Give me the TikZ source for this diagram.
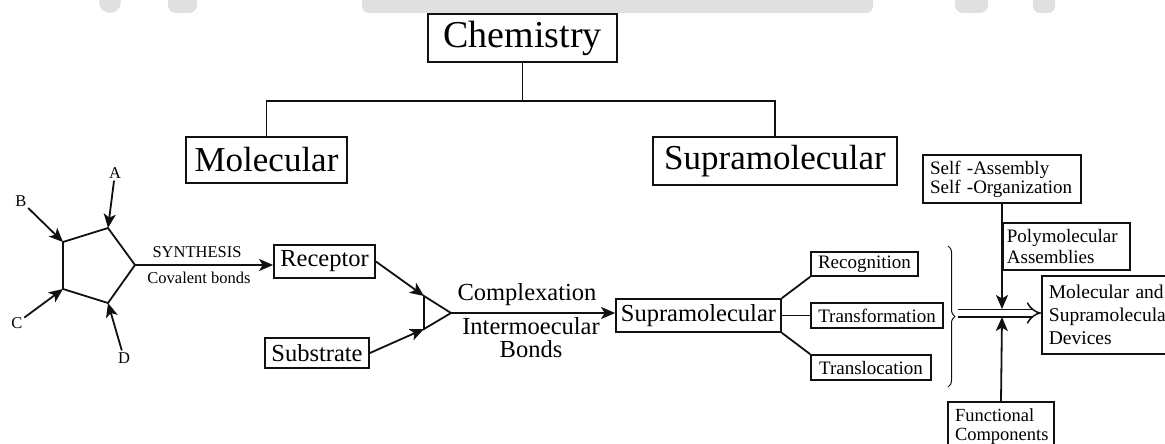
\documentclass[tikz,border=0pt]{standalone}
\usepackage{fontspec}
\setmainfont{Liberation Serif}
\usepackage{xcolor}
\definecolor{cLine}{HTML}{111111}
\definecolor{cBand}{HTML}{E0E0E0}
\usepackage{tikz}
\usetikzlibrary{positioning,arrows.meta,decorations.pathreplacing}
\tikzset{
  node-box/.style={draw=cLine,line width=1.8pt,inner sep=0pt,align=center},
  node-top/.style={node-box,font=\fontsize{35}{38}\selectfont},
  node-mid/.style={node-box,font=\fontsize{24.5}{26}\selectfont},
  node-small/.style={node-box,font=\fontsize{19}{19}\selectfont},
  node-multi/.style={draw=cLine,line width=1.8pt,inner ysep=0pt,align=left},
  node-label/.style={inner sep=0pt,align=center,font=\fontsize{16.5}{18}\selectfont},
  node-text/.style={inner sep=0pt,align=center,font=\fontsize{24.5}{23}\selectfont},
  arrow/.style={-{Stealth[length=14pt,width=12pt,inset=3.5pt]},line width=1.8pt,draw=cLine},
  link/.style={line width=1.8pt,draw=cLine},
}

\begin{document}
\begin{tikzpicture}[x=1pt,y=-1pt]
  \useasboundingbox (0,0) rectangle (1165,444);
  \clip (0,0) rectangle (1165,444);
  \fill[white] (0,0) rectangle (1165,444);
  % faded band along the top edge
  \fill[cBand] (110,2) circle (11);
  \fill[cBand,rounded corners=8pt] (168,-10) rectangle (197,13);
  \fill[cBand,rounded corners=7pt] (362,-10) rectangle (873,13);
  \fill[cBand,rounded corners=8pt] (955,-10) rectangle (988,13);
  \fill[cBand,rounded corners=7pt] (1033,-10) rectangle (1055,13);

  % tree
  \node[node-top,font=\fontsize{38}{40}\selectfont,minimum width=189pt,minimum height=48pt] (chem) at (522.5,38) {Chemistry};
  \node[node-top,minimum width=161pt,minimum height=46pt] (mol) at (266.5,160) {Molecular};
  \node[node-top,minimum width=244pt,minimum height=48pt] (supra) at (775,161) {Supramolecular};
  \draw[link] (chem.south) -- ++(0,38) -| (mol.north);
  \draw[link] (chem.south) ++(0,38) -| (supra.north);

  % ring
  \coordinate (pA) at (108,228);
  \coordinate (pR) at (135,265);
  \coordinate (pD) at (108,303);
  \coordinate (pC) at (63,289);
  \coordinate (pB) at (63,242);
  \draw[link,line join=miter] (pA) -- (pR) -- (pD) -- (pC) -- (pB) -- cycle;
  \node[node-label] (lblA) at (115,173) {A};
  \node[node-label] (lblB) at (21,201) {B};
  \node[node-label] (lblC) at (17,323) {C};
  \node[node-label] (lblD) at (124,358) {D};
  \draw[arrow,shorten <=2pt] (lblA) -- (pA);
  \draw[arrow,shorten <=2pt] (lblB) -- (pB);
  \draw[arrow,shorten <=2pt] (lblC) -- (pC);
  \draw[arrow,shorten <=2pt] (lblD) -- (pD);

  \node[node-mid,minimum width=101pt,minimum height=33pt] (rec) at (324.5,261.5) {Receptor};
  \node[node-mid,minimum width=104pt,minimum height=30pt] (sub) at (317,353) {Substrate};
  \node[node-label] (syn) at (197,252) {SYNTHESIS};
  \node[node-label] (cov) at (199,278) {Covalent bonds};
  \draw[arrow] (pR) -- (pR -| rec.west);

  % complexation
  \coordinate (tTop) at (424,296);
  \coordinate (tBot) at (424,329);
  \coordinate (tApex) at (451,313);
  \draw[link] (tTop) -- (tApex) -- (tBot) -- cycle;
  \draw[arrow] (rec.east) -- (tTop);
  \draw[arrow] (sub.east) -- (tBot);
  \node[node-mid,minimum width=165pt,minimum height=33pt] (supmid) at (698.5,315.5) {Supramolecular};
  \node[node-text] (cplx) at (527,295) {Complexation};
  \node[node-text] (inter) at (531,338) {Intermoecular\\Bonds};
  \draw[arrow] (tApex) -- (tApex -| supmid.west);

  \node[node-small,minimum width=107pt,minimum height=24pt] (recog) at (864.5,264) {Recognition};
  \node[node-small,minimum width=132pt,minimum height=25pt] (transf) at (877,315.5) {Transformation};
  \node[node-small,minimum width=120pt,minimum height=25pt] (transl) at (871,367.5) {Translocation};
  \draw[link] (supmid.north east) -- (recog.south west);
  \draw[link] (supmid.east) -- (transf.west);
  \draw[link] (supmid.south east) -- (transl.north west);

  % devices
  \draw[decorate,decoration={brace,amplitude=7pt},line width=1pt,draw=cLine] (948,246) -- (948,387);
  \node[node-multi,font=\fontsize{19}{19}\selectfont,inner xsep=7pt,text width=144pt,minimum height=48pt] (self) at (1002,179) {Self -Assembly\\Self -Organization};
  \node[node-multi,font=\fontsize{19}{21}\selectfont,inner xsep=4pt,text width=119pt,minimum height=47pt,anchor=north west] (poly) at (1002,222) {Polymolecular\\Assemblies};
  \node[node-multi,font=\fontsize{19.5}{23}\selectfont,inner xsep=7pt,text width=126pt,minimum height=78pt,anchor=north west] (dev) at (1041,275) {Molecular and\\Supramolecular\\Devices};
  \node[node-multi,font=\fontsize{18.5}{19}\selectfont,inner xsep=7pt,text width=92pt,minimum height=50pt,anchor=north] (func) at (1001,401) {Functional\\Components};
  \coordinate (brTip) at (958,313);
  \coordinate (jTop) at (1002,309);
  \coordinate (jBot) at (1002,317);
  \draw[line width=1.5pt,draw=cLine,double,double distance=6pt,-{Implies[length=9pt,width=22pt]}] (brTip) -- (brTip -| dev.west);
  \draw[arrow] (self.south) -- (jTop);
  \draw[arrow] (func.north) -- (jBot);
\end{tikzpicture}
\end{document}
